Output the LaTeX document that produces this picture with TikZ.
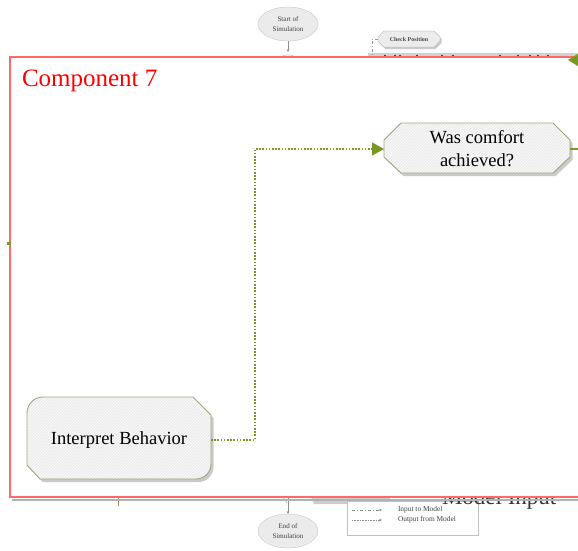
\documentclass[tikz,border=0pt]{standalone}
\usepackage{fontspec}
\setmainfont{Liberation Serif}
\usetikzlibrary{arrows.meta,shapes.geometric,patterns}

\definecolor{linkgreen}{RGB}{122,151,36}
\definecolor{shapeedge}{RGB}{160,165,125}
\definecolor{shapefill}{RGB}{236,236,236}
\definecolor{shadowgrey}{RGB}{185,185,185}
\definecolor{framered}{RGB}{255,105,105}

% outlines of the process shapes
\newcommand{\interpretoutline}{(43,397) -- (193,397) -- (211,415) -- (211,464)
  .. controls (211,472.3) and (204.3,479) .. (196,479) -- (40,479) -- (27,465)
  -- (27,413) .. controls (27,404.2) and (34.2,397) .. (43,397) -- cycle}
\newcommand{\comfortoutline}{(401,123) -- (553,123) -- (570,140) -- (570,157)
  -- (553,173) -- (401,173) -- (384,157) -- (384,140) -- cycle}
\newcommand{\checkoutline}{(384,31) -- (434,31) -- (440,37) -- (440,41)
  -- (434,47) -- (384,47) -- (378,41) -- (378,37) -- cycle}

\begin{document}
\begin{tikzpicture}[x=1pt,y=-1pt,
  every node/.style={inner sep=0pt, outer sep=0pt},
  holder/.style={rectangle, minimum width=#1},
  shapeline/.style={draw=shapeedge, line width=0.9pt},
  castshadow/.style={fill=shadowgrey, opacity=0.75},
  hatch/.style={pattern=north east lines, pattern color=white},
  termnode/.style={ellipse, draw=black!22, fill=black!8, minimum width=60pt,
    minimum height=34pt, align=center, text=black!75,
    font=\fontsize{7}{9.5}\selectfont},
  greyflow/.style={draw=black!45, line width=0.5pt,
    -{Stealth[length=3pt,width=2.6pt]}},
  greenflow/.style={draw=linkgreen, line width=1.4pt},
  dottedflow/.style={greenflow, dash pattern=on 1.6pt off 1.6pt},
  greentip/.style={-{Triangle[length=12pt,width=13pt]}},
  dashdotline/.style={dash pattern=on 3pt off 2pt on 1pt off 2pt}
]
\useasboundingbox (0,0) rectangle (578,550);
\clip (0,0) rectangle (578,550);
\fill[white] (0,0) rectangle (578,550);

% ---- surrounding flowchart, partly covered by the enlarged component ----
\fill[black!18] (368,53) rectangle (580,57);
\foreach \dx in {385,395,400,417,442,453,500,518,530,538,548}
  \fill[black!85] (\dx,55.5) circle (0.8);

\node[termnode] (start) at (288,24) {Start of\\Simulation};
\coordinate (startend) at (288,52);
\draw[greyflow] (start.south) -- (startend);
\draw[black!30, line width=0.5pt] (281,57) .. controls (284,54) and (292,54) .. (295,57);

\fill[castshadow, shift={(1.5,2)}] \checkoutline;
\fill[shapefill] \checkoutline;
\draw[draw=black!25, line width=0.5pt] \checkoutline;
\node[holder=62pt, minimum height=16pt, font=\fontsize{6}{7}\selectfont\bfseries,
  text=black!70] (check) at (409,39) {Check Position};
\coordinate (checkdown) at (372,57);
\draw[black!40, line width=0.6pt, dashdotline] (check.west) -| (checkdown);

% lower part
\fill[black!20] (311,497) -- (391,497) -- (386,504) -- (314,504) -- cycle;
\draw[black!35, line width=0.5pt] (283,497) -- (287,503);
\draw[olive!70!black!70, line width=0.9pt] (118,497) -- (118,506);

\coordinate (endtop) at (288,497);
\node[termnode] (finish) at (288,531) {End of\\Simulation};
\draw[greyflow] (endtop) -- (finish.north);

\node[draw=black!25, fill=white, line width=0.5pt, minimum width=131pt,
  minimum height=34pt] (legend) at (412.5,518) {};
\coordinate (l1a) at (352,510); \coordinate (l1b) at (382,510);
\coordinate (l2a) at (352,520); \coordinate (l2b) at (382,520);
\draw[greyflow, dashdotline] (l1a) -- (l1b);
\draw[greyflow, dash pattern=on 0.8pt off 0.8pt] (l2a) -- (l2b);
\node[anchor=west, font=\fontsize{7.4}{9}\selectfont, text=black!75] (lin) at (398,510) {Input to Model};
\node[anchor=west, font=\fontsize{7.4}{9}\selectfont, text=black!75] (lout) at (398,520) {Output from Model};
\node[anchor=base west, font=\fontsize{23}{28}\selectfont, text=black!80]
  (modelin) at (442,504) {Model Input};

% ---- enlarged component frame ----
\draw[black!30, line width=2pt] (12,499.5) -- (590,499.5);
\draw[framered, line width=1.6pt, fill=white] (10,57) rectangle (600,497);
\node[anchor=base west, text=red, font=\fontsize{25}{30}\selectfont] (title)
  at (22,86) {Component 7};

\coordinate (farright) at (600,60);
\coordinate (tipright) at (568,60);
\draw[greenflow, -{Triangle[length=10pt,width=12pt]}] (farright) -- (tipright);
\draw[linkgreen, line width=3pt] (7,243) -- (10.5,243);

% process shapes
\fill[castshadow, shift={(2.5,3)}] \interpretoutline;
\fill[shapefill] \interpretoutline;
\fill[hatch] \interpretoutline;
\draw[shapeline] \interpretoutline;
\node[holder=184pt, minimum height=82pt, font=\fontsize{18.5}{23}\selectfont]
  (interpret) at (119,440) {Interpret Behavior};

\fill[castshadow, shift={(2.5,3)}] \comfortoutline;
\fill[shapefill] \comfortoutline;
\fill[hatch] \comfortoutline;
\draw[shapeline] \comfortoutline;
\node[holder=186pt, minimum height=50pt, align=center,
  font=\fontsize{18.5}{23}\selectfont] (comfort) at (477,149)
  {Was comfort\\achieved?};

% connectors
\coordinate (jog) at (255,300);
\draw[dottedflow, greentip] (interpret.east) -| (jog) |- (comfort.west);
\coordinate (comfortout) at (600,149);
\draw[greenflow] (comfort.east) -- (comfortout);
\end{tikzpicture}
\end{document}
